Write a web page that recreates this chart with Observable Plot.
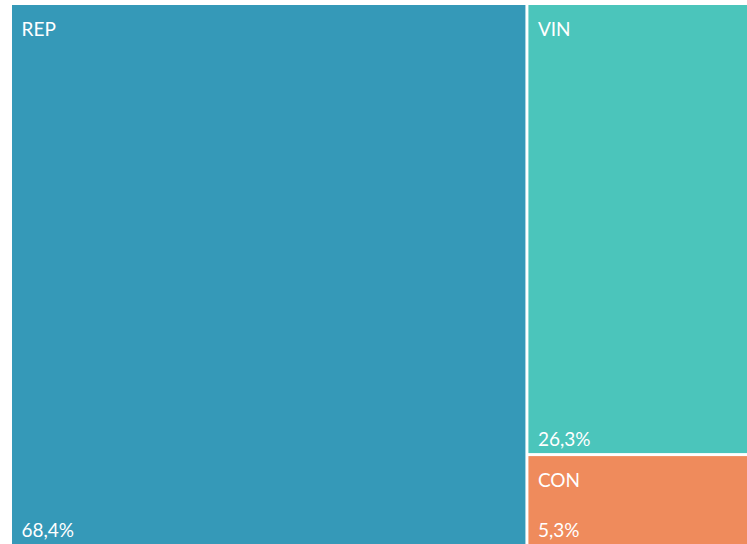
<!DOCTYPE html>
<html>
<head>
<meta charset="utf-8">
<script src="https://cdn.jsdelivr.net/npm/d3@7"></script>
<script src="https://cdn.jsdelivr.net/npm/@observablehq/plot@0.6"></script>
<style>
  html, body { margin: 0; padding: 0; background: #ffffff; overflow: hidden; }
  #chart svg { display: block; }
</style>
</head>
<body>
<div id="chart"></div>
<script>
const categories = ["REP", "VIN", "CON"];
const values = [68.4, 26.3, 5.3];
const valueLabels = ["68,4%", "26,3%", "5,3%"];
const colors = ["#3599B8", "#4BC5BB", "#EF8B5C"];

// layout units (plot area extends past the right edge of the picture)
const W = 752, H = 539;

const root = d3.hierarchy({
  children: categories.map((c, i) => ({name: c, value: values[i], label: valueLabels[i]}))
}).sum(d => d.value || 0);

d3.treemap().tile(d3.treemapSquarify).size([W, H]).paddingInner(3).round(false)(root);

const leaves = root.leaves().map(n => ({
  name: n.data.name, label: n.data.label,
  x0: n.x0, x1: n.x1, y0: n.y0, y1: n.y1
}));

const chart = Plot.plot({
  width: 747,
  height: 544,
  x: {domain: [0, W], range: [12, 12 + W], axis: null},
  y: {domain: [0, H], range: [5, 5 + H], axis: null},
  color: {domain: categories, range: colors},
  style: {background: "#ffffff"},
  marks: [
    Plot.rect(leaves, {x1: "x0", x2: "x1", y1: "y0", y2: "y1", fill: "name"}),
    Plot.text(leaves, {x: "x0", y: "y0", text: "name", dx: 9, dy: 17,
      textAnchor: "start", lineAnchor: "top", fill: "white",
      fontFamily: "Lato", fontSize: 19}),
    Plot.text(leaves, {x: "x0", y: "y1", text: "label", dx: 9, dy: -8,
      textAnchor: "start", lineAnchor: "bottom", fill: "white",
      fontFamily: "Lato", fontSize: 19})
  ]
});
document.getElementById("chart").appendChild(chart);
</script>
</body>
</html>
